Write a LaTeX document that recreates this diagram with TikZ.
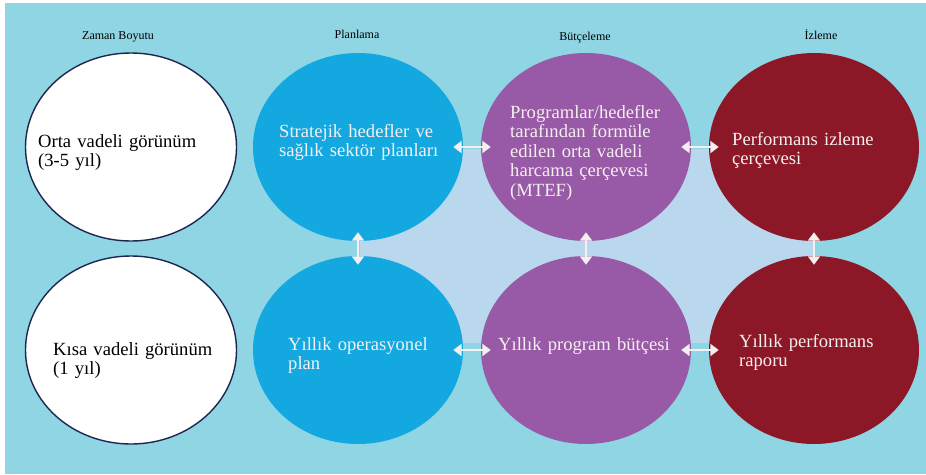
\documentclass[tikz,border=0pt]{standalone}
\usepackage{fontspec}
\setmainfont{Liberation Serif}
\usepackage{tikz}
\usetikzlibrary{positioning,shapes,arrows.meta}
\definecolor{bgcyan}{RGB}{143,213,228}
\definecolor{bglight}{RGB}{185,216,238}
\definecolor{planblue}{RGB}{20,168,224}
\definecolor{butcepurple}{RGB}{152,90,166}
\definecolor{izlered}{RGB}{140,23,38}
\definecolor{rimnavy}{RGB}{30,38,80}
\definecolor{softwhite}{RGB}{245,240,240}

\begin{document}
\begin{tikzpicture}[x=1pt,y=-1pt,
  disc/.style={ellipse,minimum width=210pt,minimum height=188pt,inner sep=0pt},
  lbl/.style={anchor=base west,align=left,text width=220pt,inner sep=0pt,
    font=\fontsize{18.6}{19.5}\selectfont},
  head/.style={anchor=base,inner sep=0pt,font=\fontsize{12}{14}\selectfont},
  link/.style={softwhite,line width=2.4pt,
    {Triangle[width=12pt,length=8.5pt]}-{Triangle[width=12pt,length=8.5pt]},
    shorten <=-10pt,shorten >=-10pt}]
\useasboundingbox (0,0) rectangle (926,474);
\fill [white] (0,0) rectangle (926,474);
\fill [bgcyan] (5,3) rectangle (926,474);
\fill [bglight] (360,149) rectangle (813,343);
% column heads
\node [head] (h-zaman) at (118,39) {Zaman Boyutu};
\node [head] (h-plan) at (357,38) {Planlama};
\node [head] (h-butce) at (585,40) {Bütçeleme};
\node [head] (h-izle) at (821,39) {İzleme};
% circles
\node [disc,draw=rimnavy,line width=1.4pt,fill=white,minimum width=211pt] (zaman1) at (131,147) {};
\node [disc,draw=rimnavy,line width=1.4pt,fill=white,minimum width=211pt] (zaman2) at (131,350) {};
\node [disc,fill=planblue] (plan1) at (358,147) {};
\node [disc,fill=planblue] (plan2) at (358,350) {};
\node [disc,fill=butcepurple] (butce1) at (586,147) {};
\node [disc,fill=butcepurple] (butce2) at (586,350) {};
\node [disc,fill=izlered] (izle1) at (814,147) {};
\node [disc,fill=izlered] (izle2) at (814,350) {};
% texts
\node [lbl,text=black] (t-zaman1) at (38,147) {Orta vadeli görünüm\\(3-5 yıl)};
\node [lbl,text=black] (t-zaman2) at (53,355) {Kısa vadeli görünüm\\(1 yıl)};
\node [lbl,text=softwhite] (t-plan1) at (279,137) {Stratejik hedefler ve\\sağlık sektör planları};
\node [lbl,text=softwhite] (t-plan2) at (288,350) {Yıllık operasyonel\\plan};
\node [lbl,text=softwhite] (t-butce1) at (510,118) {Programlar/hedefler\\tarafından formüle\\edilen orta vadeli\\harcama çerçevesi\\(MTEF)};
\node [lbl,text=softwhite] (t-butce2) at (498,350) {Yıllık program bütçesi};
\node [lbl,text=softwhite] (t-izle1) at (732,145) {Performans izleme\\çerçevesi};
\node [lbl,text=softwhite] (t-izle2) at (739,347) {Yıllık performans\\raporu};
% arrows
\draw [link] (plan1) -- (butce1);
\draw [link] (butce1) -- (izle1);
\draw [link] (plan2) -- (butce2);
\draw [link] (butce2) -- (izle2);
\draw [link,shorten <=-9pt,shorten >=-9pt] (plan1) -- (plan2);
\draw [link,shorten <=-9pt,shorten >=-9pt] (butce1) -- (butce2);
\draw [link,shorten <=-9pt,shorten >=-9pt] (izle1) -- (izle2);
\end{tikzpicture}
\end{document}
